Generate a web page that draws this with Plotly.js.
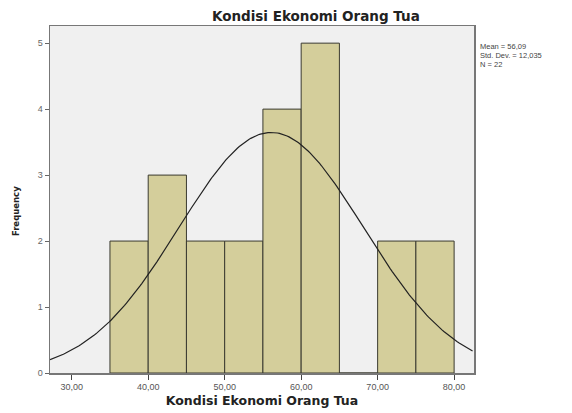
<!DOCTYPE html>
<html>
<head>
<meta charset="utf-8">
<script src="https://cdn.plot.ly/plotly-3.0.1.min.js"></script>
<style>html,body{margin:0;padding:0;background:#fff;}#chart{width:572px;height:413px;}</style>
</head>
<body>
<div id="chart"></div>
<script>
// Data
var binStarts = [35, 40, 45, 50, 55, 60, 65, 70, 75];
var binWidth = 5;
var frequencies = [2, 3, 2, 2, 4, 5, 0, 2, 2];
var tickValues = [30, 40, 50, 60, 70, 80];
var tickLabels = ["30,00", "40,00", "50,00", "60,00", "70,00", "80,00"];
var statMean = 56.09;
var statSD = 12.035;
var statN = 22;
var statLabels = ["Mean = 56,09", "Std. Dev. = 12,035", "N = 22"];

var centers = binStarts.map(function(s){ return s + binWidth/2; });

// fitted normal curve from the stated statistics
var cx = [], cy = [];
for (var v = 27.16; v <= 82.6; v += 0.25) {
  cx.push(v);
  var z = (v - statMean) / statSD;
  cy.push(statN * binWidth * Math.exp(-0.5*z*z) / (statSD * Math.sqrt(2*Math.PI)));
}

var traces = [
  {type:'bar', x:centers, y:frequencies, width:binWidth,
   marker:{color:'#d4ce9b', line:{color:'#3a3a30', width:1}}, hoverinfo:'x+y'},
  {type:'scatter', mode:'lines', x:cx, y:cy, line:{color:'#222', width:1.2}, hoverinfo:'skip'}
];

var H = 413;
var statY = [46, 55, 64];
var ann = statLabels.map(function(t, i){
  return {xref:'paper', yref:'paper', x:1.01, y:1 - (statY[i]-26)/(373-26), xanchor:'left', yanchor:'middle',
          showarrow:false, text:t, font:{size:7.5, color:'#444', family:'Liberation Sans, Arial, sans-serif'}};
});
ann.push({xref:'paper', yref:'paper', x:-0.08, xanchor:'center', y:1 - (211-26)/(373-26), yanchor:'middle',
  textangle:-90, showarrow:false, text:'<b>Frequency</b>',
  font:{family:'DejaVu Sans, sans-serif', size:8.5, color:'#222'}});

var layout = {
  width:572, height:413,
  margin:{l:50, r:98, t:26, b:40},
  paper_bgcolor:'#ffffff', plot_bgcolor:'#f0f0f0',
  showlegend:false, bargap:0,
  font:{family:'Liberation Sans, Arial, sans-serif', color:'#444'},
  title:{text:'<b>Kondisi Ekonomi Orang Tua</b>', xref:'paper', x:0.627, xanchor:'center', yref:'container', y:1 - 16/H, yanchor:'middle',
         font:{family:'DejaVu Sans, sans-serif', size:13.5, color:'#222'}},
  xaxis:{range:[27.16, 82.6], tickvals:tickValues, ticktext:tickLabels, ticks:'outside', ticklen:5,
         tickcolor:'#444', showgrid:false, zeroline:false, showline:true, linecolor:'#777', linewidth:1.5,
         mirror:true, tickfont:{size:9, color:'#555'},
         title:{text:'<b>Kondisi Ekonomi Orang Tua</b>', standoff:5, font:{family:'DejaVu Sans, sans-serif', size:12.5, color:'#222'}}},
  yaxis:{range:[0, 5.26], tickvals:[0,1,2,3,4,5], ticks:'outside', ticklen:4, tickcolor:'#666',
         showgrid:false, zeroline:false, showline:true, linecolor:'#777', linewidth:1.5, mirror:true,
         tickfont:{size:9, color:'#666'}},
  annotations:ann
};

Plotly.newPlot('chart', traces, layout, {displayModeBar:false, staticPlot:true});
</script>
</body>
</html>
